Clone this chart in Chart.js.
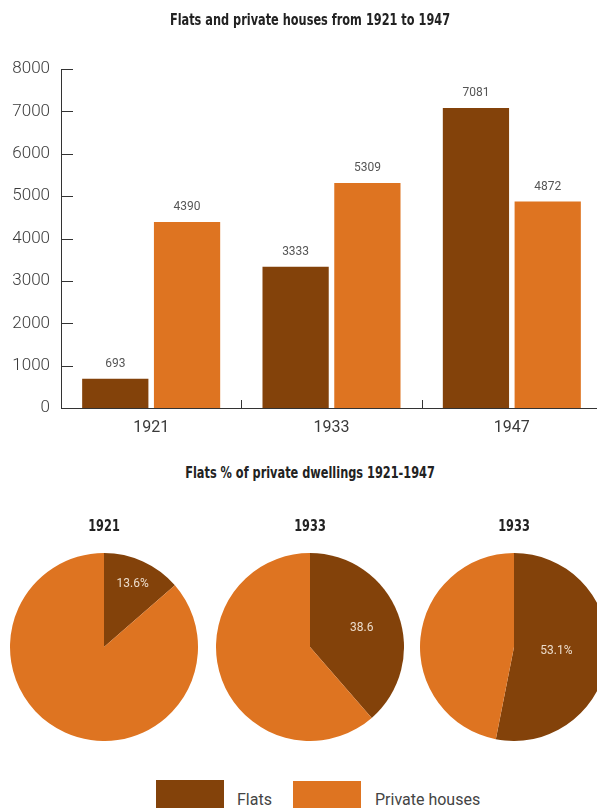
<!DOCTYPE html>
<html>
<head>
<meta charset="utf-8">
<script src="https://cdn.jsdelivr.net/npm/chart.js@4.4.1/dist/chart.umd.min.js"></script>
<style>
  html, body { margin: 0; padding: 0; background: #fff; overflow: hidden; }
  #page { position: relative; width: 620px; height: 808px; }
  canvas { position: absolute; display: block; }
  .heading {
    position: absolute; left: 0; width: 620px; text-align: center;
    font: bold 15px/18px "DejaVu Sans Condensed", "DejaVu Sans", sans-serif;
    color: #222;
    transform: scaleX(0.84);
    transform-origin: 310px 0;
  }
  .swatch { position: absolute; width: 68px; height: 30px; }
  .legend-text {
    position: absolute; font: 16px/20px Roboto, "Liberation Sans", sans-serif; color: #444;
  }
</style>
</head>
<body>
<div id="page">
  <canvas id="barChart" width="620" height="450" style="left:0;top:0"></canvas>
  <div class="heading" style="top:11px">Flats and private houses from 1921 to 1947</div>
  <div class="heading" style="top:464px">Flats % of private dwellings 1921-1947</div>
  <canvas id="pie0" width="188" height="236" style="left:10px;top:505px"></canvas>
  <canvas id="pie1" width="188" height="236" style="left:216px;top:505px"></canvas>
  <canvas id="pie2" width="188" height="236" style="left:420px;top:505px"></canvas>
  <div class="heading" style="top:517px;left:-206px">1921</div>
  <div class="heading" style="top:517px;left:0">1933</div>
  <div class="heading" style="top:517px;left:204px">1933</div>
  <div class="swatch" style="left:156px;top:780px;background:#83420a"></div>
  <div class="legend-text" style="left:237px;top:790px">Flats</div>
  <div class="swatch" style="left:293px;top:781px;background:#de7421"></div>
  <div class="legend-text" style="left:375px;top:790px">Private houses</div>
</div>
<script>
// bar chart data
const years = ['1921', '1933', '1947'];
const flats = [693, 3333, 7081];
const houses = [4390, 5309, 4872];
const yMax = 8000;
const yStep = 1000;

// pie data (flats share of dwellings)
const flatsShare = [13.6, 38.6, 53.1];
const housesShare = [86.4, 61.4, 46.9];
const pieSuffix = ['%', '', '%'];

const BROWN = '#83420a';
const ORANGE = '#de7421';
const BODY_FONT = 'Roboto, "Liberation Sans", sans-serif';

/* ---- value labels above bars ---- */
const barValueLabels = {
  id: 'barValueLabels',
  afterDatasetsDraw(chart) {
    const ctx = chart.ctx;
    ctx.save();
    ctx.font = '12px ' + BODY_FONT;
    ctx.fillStyle = '#555';
    ctx.textAlign = 'center';
    ctx.textBaseline = 'middle';
    chart.data.datasets.forEach((ds, di) => {
      chart.getDatasetMeta(di).data.forEach((bar, i) => {
        ctx.fillText(ds.data[i], bar.x, bar.y - 15);
      });
    });
    ctx.restore();
  }
};

/* ---- tick marks pointing into the plot ---- */
const innerTicks = {
  id: 'innerTicks',
  afterDraw(chart) {
    const { ctx, scales: { x, y } } = chart;
    ctx.save();
    ctx.strokeStyle = '#333';
    ctx.lineWidth = 1;
    ctx.beginPath();
    y.ticks.forEach((t, i) => {
      const py = Math.round(y.getPixelForTick(i)) + 0.5;
      ctx.moveTo(y.right, py);
      ctx.lineTo(y.right + 12, py);
    });
    for (let i = 1; i < x.ticks.length; i++) {
      const px = Math.round((x.getPixelForTick(i - 1) + x.getPixelForTick(i)) / 2) + 0.5;
      ctx.moveTo(px, x.top);
      ctx.lineTo(px, x.top - 8);
    }
    ctx.stroke();
    ctx.restore();
  }
};

new Chart(document.getElementById('barChart'), {
  type: 'bar',
  data: {
    labels: years,
    datasets: [
      { label: 'Flats', data: flats, backgroundColor: BROWN },
      { label: 'Private houses', data: houses, backgroundColor: ORANGE }
    ]
  },
  options: {
    responsive: false,
    animation: false,
    layout: { padding: { left: 0, right: 18, top: 69, bottom: 0 } },
    datasets: { bar: { categoryPercentage: 0.796, barPercentage: 0.923 } },
    plugins: {
      legend: { display: false },
      tooltip: { enabled: false },
      title: { display: false }
    },
    scales: {
      x: {
        grid: { display: false, drawTicks: false },
        border: { display: true, color: '#333', width: 1 },
        ticks: { color: '#3a3a3a', font: { family: BODY_FONT, size: 16 }, padding: 10 },
        afterFit(scale) { scale.height = 42; }
      },
      y: {
        min: 0,
        max: yMax,
        grid: { display: false, drawTicks: false },
        border: { display: true, color: '#333', width: 1 },
        ticks: {
          stepSize: yStep,
          color: '#3a3a3a',
          font: { family: BODY_FONT, size: 17, weight: '300' },
          padding: 11,
          callback: v => String(v)
        },
        afterFit(scale) { scale.width = 61; }
      }
    }
  },
  plugins: [barValueLabels, innerTicks]
});

/* ---- labels inside the flats slice, placed near the slice centroid ---- */
const sliceLabel = {
  id: 'sliceLabel',
  afterDatasetsDraw(chart) {
    const ctx = chart.ctx;
    const idx = chart.options.plugins.sliceLabel.index;
    const arc = chart.getDatasetMeta(0).data[0];
    const theta = arc.endAngle - arc.startAngle;
    const mid = (arc.startAngle + arc.endAngle) / 2;
    const d = 1.14 * 4 * arc.outerRadius * Math.sin(theta / 2) / (3 * theta);
    ctx.save();
    ctx.font = '12px ' + BODY_FONT;
    ctx.fillStyle = '#ecdccb';
    ctx.textAlign = 'center';
    ctx.textBaseline = 'middle';
    ctx.fillText(flatsShare[idx] + pieSuffix[idx], arc.x + Math.cos(mid) * d, arc.y + Math.sin(mid) * d);
    ctx.restore();
  }
};

flatsShare.forEach((share, i) => {
  new Chart(document.getElementById('pie' + i), {
    type: 'pie',
    data: {
      labels: ['Flats', 'Private houses'],
      datasets: [{
        data: [share, housesShare[i]],
        backgroundColor: [BROWN, ORANGE],
        borderWidth: 0
      }]
    },
    options: {
      responsive: false,
      animation: false,
      layout: { padding: { top: 48 } },
      plugins: {
        legend: { display: false },
        tooltip: { enabled: false },
        title: { display: false },
        sliceLabel: { index: i }
      }
    },
    plugins: [sliceLabel]
  });
});
</script>
</body>
</html>
